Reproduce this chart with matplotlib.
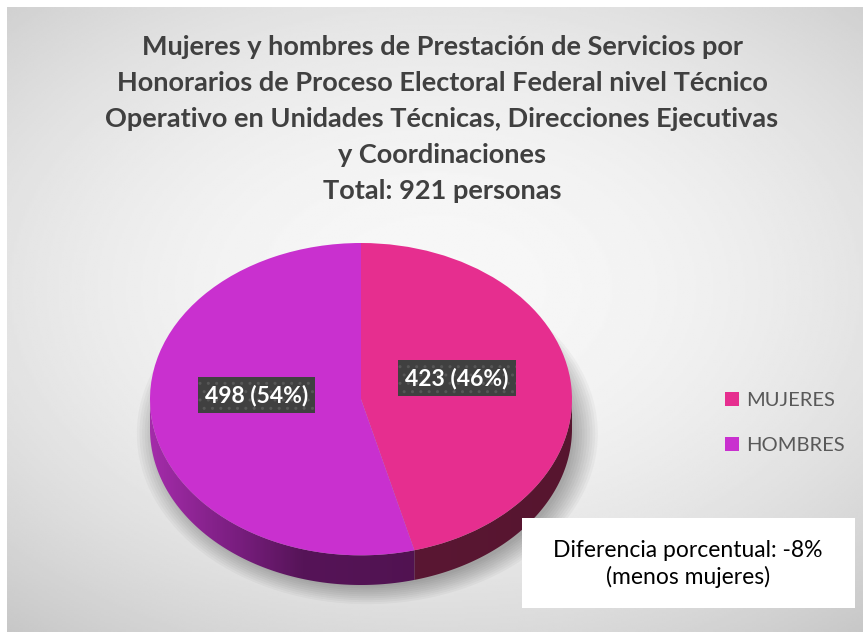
import numpy as np
import matplotlib.pyplot as plt
from matplotlib.patches import Polygon, Rectangle, Ellipse
from matplotlib.colors import LinearSegmentedColormap

# Données
categorias = ['MUJERES', 'HOMBRES']
valores = [423, 498]
colores = ['#e62e8f', '#c930cf']
colores_lado = [[(0, '#5e1a3a'), (1, '#57152f')],
                [(0, '#a32ca9'), (0.2, '#7a1e80'), (0.36, '#561458'), (1, '#4a1148')]]
titulo = ('Mujeres y hombres de Prestación de Servicios por\n'
          'Honorarios de Proceso Electoral Federal nivel Técnico\n'
          'Operativo en Unidades Técnicas, Direcciones Ejecutivas\n'
          'y Coordinaciones')
nota = 'Diferencia porcentual: -8%\n(menos mujeres)'

total = sum(valores)
pct = [round(v / total * 100) for v in valores]

W, H = 863, 632
fig = plt.figure(figsize=(W / 100, H / 100), dpi=100)
fig.patch.set_facecolor('white')


def px_axes(x0, y0, x1, y1, **kw):
    return fig.add_axes([x0 / W, 1 - y1 / H, (x1 - x0) / W, (y1 - y0) / H], **kw)


# Fond dégradé radial
bg = px_axes(7, 7, 863, 632)
yy, xx = np.mgrid[0:1:300j, 0:1:400j]
r2 = ((xx - 0.5) / 0.5) ** 2 * 0.9 + ((yy - 0.45) / 0.5) ** 2 * 1.1
bg.imshow(0.97 - 0.17 * r2 / 2, cmap='gray', vmin=0, vmax=1, aspect='auto',
          extent=(0, 1, 1, 0))
bg.set_axis_off()

# Camembert 3D
d = 0.19
ax = px_axes(150, 243, 572, 585)
ax.set_zorder(2)

# ombre
for k in range(10):
    ax.add_patch(Ellipse((0.03, -d - 0.03), 1.96 + k * 0.025, 1.96 + k * 0.025,
                         color='black', alpha=0.03, lw=0, zorder=0, clip_on=False))

wedges, _ = ax.pie(valores, colors=colores, startangle=90, counterclock=False,
                   radius=1, center=(0, 0), wedgeprops=dict(linewidth=0, zorder=5))

grad = np.linspace(0, 1, 300)[None, :].repeat(2, axis=0)
for w, cl in zip(wedges, colores_lado):
    t1, t2 = w.theta1, w.theta2
    # partie visible à l'avant (sin < 0)
    a = np.deg2rad(np.linspace(t1, t2, 400))
    a = a[np.sin(a) <= 0.001]
    if len(a) == 0:
        continue
    top = np.column_stack([np.cos(a), np.sin(a)])
    bot = np.column_stack([np.cos(a[::-1]), np.sin(a[::-1]) - d])
    poly = Polygon(np.vstack([top, bot]), closed=True, fc='none', ec='none')
    ax.add_patch(poly)
    cmap = LinearSegmentedColormap.from_list('lado', cl)
    im = ax.imshow(grad, cmap=cmap, extent=(-1, 1, -1 - d, 1), aspect='auto', zorder=3)
    im.set_clip_path(poly)

ax.set_aspect('auto')
ax.set_xlim(-1, 1)
ax.set_ylim(-1 - d, 1)
ax.set_axis_off()

# Étiquettes
pos_etq = [(0.455, 0.135), (-0.493, 0.026)]
for v, p, (x, y) in zip(valores, pct, pos_etq):
    ax.text(x, y, f'{v} ({p}%)', ha='center', va='center', color='white',
            fontsize=16.5, fontweight='bold', family='Lato', zorder=10,
            bbox=dict(boxstyle='square,pad=0.3', fc='#404040', ec='#575757',
                      lw=0, hatch='..'))

# Titre
fig.text(442 / W, 1 - 35 / H, titulo + f'\nTotal: {total} personas', ha='center', va='top',
         fontsize=19.5, fontweight='bold', family='Lato', color='#404040',
         linespacing=1.6)

# Légende
ax.legend(wedges, categorias, loc='center left', bbox_to_anchor=(707 / W, 1 - 423 / H),
          bbox_transform=fig.transFigure, frameon=False,
          labelcolor='#595959', handlelength=0.7, handleheight=0.7,
          handletextpad=0.35, labelspacing=1.4, prop=dict(family='Lato', size=14.5))

# Encadré
fig.patches.append(Rectangle((522 / W, 1 - 608 / H), 333 / W, 90 / H,
                             transform=fig.transFigure, fc='white', ec='none', zorder=5))
fig.text(688 / W, 1 - 564 / H, nota, ha='center', va='center', fontsize=16.5,
         family='Lato', color='black', linespacing=1.25, zorder=6)

fig.savefig('out.png', dpi=100)
